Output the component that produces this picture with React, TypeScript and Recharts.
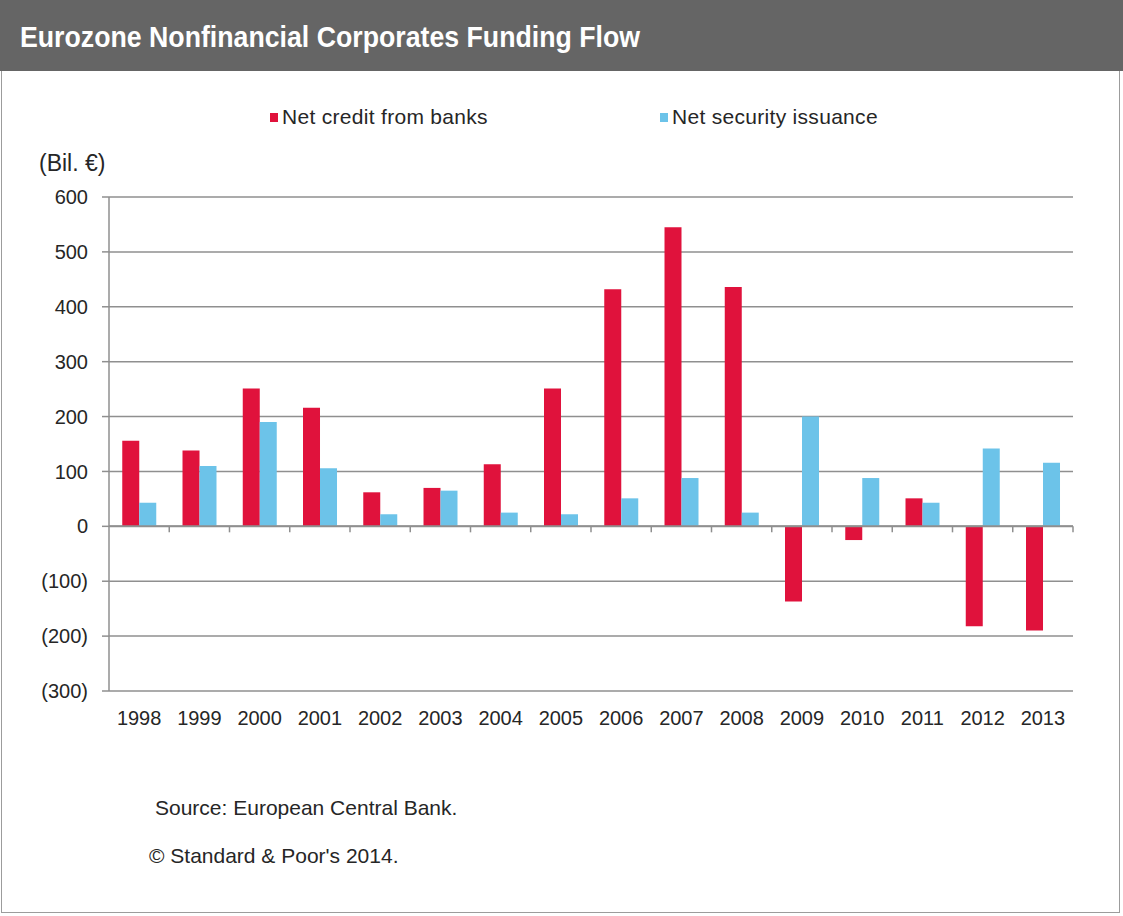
import React from 'react';
import { BarChart, Bar, XAxis, YAxis, CartesianGrid, ReferenceLine } from 'recharts';

const years = ['1998', '1999', '2000', '2001', '2002', '2003', '2004', '2005', '2006', '2007', '2008', '2009', '2010', '2011', '2012', '2013'];
const netCreditFromBanks = [156, 138, 251, 216, 62, 70, 113, 251, 432, 545, 436, -137, -25, 51, -182, -190];
const netSecurityIssuance = [43, 110, 190, 106, 22, 65, 25, 22, 51, 88, 25, 200, 88, 43, 142, 116];
const yTicks = [-300, -200, -100, 0, 100, 200, 300, 400, 500, 600];

const seriesNames = ['Net credit from banks', 'Net security issuance'];
const seriesColors = ['#E0123C', '#6CC3E9'];

const data = years.map((y, i) => ({
  year: y,
  banks: netCreditFromBanks[i],
  securities: netSecurityIssuance[i],
}));

const FONT = "'Liberation Sans', Arial, sans-serif";
const GRID = '#8f8f8f';
const TEXT = '#262626';

const fmt = (v: number) => (v < 0 ? `(${Math.abs(v)})` : `${v}`);

const ZeroLine = (props: any) => {
  const { x1, y1, x2, y2 } = props;
  if (x1 == null) return null;
  const n = years.length;
  const step = (x2 - x1) / n;
  const ticks = [];
  for (let i = 1; i <= n; i++) {
    const x = x1 + step * i;
    ticks.push(<line key={i} x1={x} x2={x} y1={y1} y2={y1 + 6} stroke={GRID} strokeWidth={1.5} />);
  }
  return (
    <g>
      <line x1={x1} y1={y1} x2={x2} y2={y2} stroke={GRID} strokeWidth={2} />
      {ticks}
    </g>
  );
};

export default function App() {
  return (
    <div style={{ position: 'absolute', left: 0, top: 0, width: 1123, height: 916, background: '#fff', fontFamily: FONT }}>
      <div style={{ position: 'absolute', left: 1, top: 0, width: 1119, height: 913, border: '1.5px solid #9c9c9c', boxSizing: 'border-box' }} />
      <div style={{ position: 'absolute', left: 0, top: 0, width: 1123, height: 71, background: '#656565' }} />
      <div style={{ position: 'absolute', left: 20, top: 19, color: '#fff', fontFamily: FONT, fontSize: 30, fontWeight: 'bold', whiteSpace: 'nowrap', lineHeight: '36px', transform: 'scaleX(0.89)', transformOrigin: 'left center' }}>
        Eurozone Nonfinancial Corporates Funding Flow
      </div>

      {/* legend */}
      {seriesNames.map((name, i) => (
        <div key={name} style={{ position: 'absolute', left: i === 0 ? 270 : 660, top: 104, display: 'flex', alignItems: 'center', fontSize: 21, lineHeight: '26px', color: TEXT, whiteSpace: 'nowrap', letterSpacing: 0.3 }}>
          <span style={{ display: 'inline-block', width: 8, height: 9, background: seriesColors[i], marginRight: 4 }} />
          <span>{name}</span>
        </div>
      ))}

      <div style={{ position: 'absolute', left: 39, top: 149, fontSize: 23, lineHeight: '28px', color: TEXT, whiteSpace: 'nowrap' }}>(Bil. €)</div>

      <div style={{ position: 'absolute', left: 0, top: 0 }}>
        <BarChart
          width={1123}
          height={740}
          data={data}
          margin={{ top: 197, right: 50, bottom: 9, left: 0 }}
          barCategoryGap="22%"
          barGap={0}
        >
          <CartesianGrid vertical={false} stroke={GRID} strokeWidth={1.5} />
          <XAxis
            dataKey="year"
            axisLine={false}
            tickLine={false}
            tickSize={0}
            tickMargin={20}
            height={40}
            interval={0}
            tick={{ fill: TEXT, fontSize: 20, fontFamily: FONT }}
          />
          <YAxis
            width={109}
            domain={[-300, 600]}
            ticks={yTicks}
            interval={0}
            tickFormatter={fmt}
            axisLine={{ stroke: GRID, strokeWidth: 1.5 }}
            tickLine={{ stroke: GRID, strokeWidth: 1.5 }}
            tickSize={7}
            tickMargin={14}
            tick={{ fill: TEXT, fontSize: 20, fontFamily: FONT }}
          />
          <ReferenceLine y={0} shape={ZeroLine} ifOverflow="extendDomain" />
          <Bar dataKey="banks" name={seriesNames[0]} fill={seriesColors[0]} isAnimationActive={false} />
          <Bar dataKey="securities" name={seriesNames[1]} fill={seriesColors[1]} isAnimationActive={false} />
        </BarChart>
      </div>

      <div style={{ position: 'absolute', left: 155, top: 796, fontSize: 21, lineHeight: '24px', color: TEXT, whiteSpace: 'nowrap' }}>Source: European Central Bank.</div>
      <div style={{ position: 'absolute', left: 149, top: 844, fontSize: 21, lineHeight: '24px', color: TEXT, whiteSpace: 'nowrap' }}>© Standard &amp; Poor's 2014.</div>
    </div>
  );
}
